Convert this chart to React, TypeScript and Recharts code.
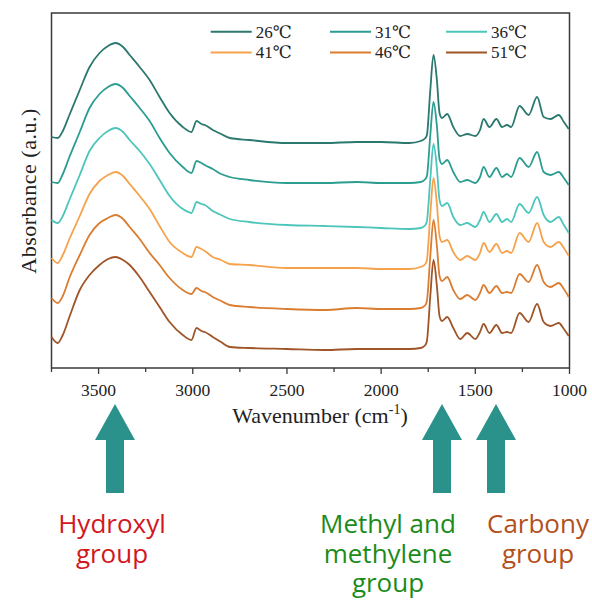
import { LineChart, Line, XAxis, YAxis, Legend, ReferenceArea } from "recharts";

// wavenumber grid (cm-1)
const WAVENUMBERS = [
  3750, 3717, 3690, 3655, 3600, 3548, 3495, 3450, 3410, 3370,
  3335, 3282, 3229, 3176, 3123, 3053, 3007, 2980, 2954, 2936,
  2894, 2850, 2803, 2700, 2500, 2300, 2130, 2000, 1850, 1790,
  1765, 1757, 1739, 1722, 1704, 1690, 1677, 1649, 1617, 1580,
  1543, 1500, 1475, 1456, 1425, 1388, 1358, 1332, 1310, 1265,
  1217, 1172, 1137, 1101, 1057, 1030, 1004,
];

// absorbance (a.u., stacked) for each temperature
const ABS_26 = [
  2.31, 2.30, 2.37, 2.53, 2.78, 3.01, 3.15, 3.22, 3.25, 3.21,
  3.13, 3.01, 2.88, 2.71, 2.55, 2.41, 2.36, 2.47, 2.44, 2.43,
  2.38, 2.34, 2.30, 2.28, 2.25, 2.25, 2.26, 2.26, 2.25, 2.27,
  2.30, 2.33, 2.78, 3.13, 2.88, 2.55, 2.50, 2.54, 2.41, 2.32,
  2.34, 2.32, 2.38, 2.49, 2.41, 2.49, 2.41, 2.43, 2.41, 2.62,
  2.53, 2.71, 2.51, 2.49, 2.53, 2.46, 2.39,
];
const ABS_31 = [
  1.86, 1.85, 1.94, 2.11, 2.36, 2.60, 2.74, 2.81, 2.84, 2.80,
  2.72, 2.60, 2.47, 2.30, 2.15, 2.01, 1.95, 2.07, 2.05, 2.03,
  1.99, 1.94, 1.91, 1.88, 1.85, 1.85, 1.86, 1.85, 1.85, 1.86,
  1.89, 1.92, 2.33, 2.66, 2.42, 2.09, 2.04, 2.08, 1.96, 1.86,
  1.88, 1.85, 1.91, 2.01, 1.91, 2.00, 1.91, 1.94, 1.91, 2.10,
  2.01, 2.16, 1.96, 1.93, 1.96, 1.90, 1.83,
];
const ABS_36 = [
  1.48, 1.45, 1.52, 1.68, 1.93, 2.17, 2.30, 2.37, 2.40, 2.36,
  2.28, 2.17, 2.04, 1.88, 1.72, 1.59, 1.55, 1.66, 1.64, 1.63,
  1.57, 1.53, 1.49, 1.46, 1.43, 1.42, 1.41, 1.40, 1.39, 1.40,
  1.43, 1.47, 1.89, 2.24, 2.00, 1.68, 1.62, 1.65, 1.51, 1.43,
  1.45, 1.41, 1.48, 1.56, 1.46, 1.54, 1.46, 1.49, 1.46, 1.64,
  1.55, 1.71, 1.53, 1.46, 1.51, 1.43, 1.35,
];
const ABS_41 = [
  1.10, 1.05, 1.13, 1.29, 1.52, 1.74, 1.87, 1.93, 1.96, 1.92,
  1.84, 1.72, 1.59, 1.42, 1.26, 1.15, 1.11, 1.21, 1.19, 1.17,
  1.11, 1.08, 1.04, 1.03, 1.00, 1.00, 1.00, 0.99, 0.99, 1.01,
  1.04, 1.08, 1.54, 1.90, 1.64, 1.32, 1.26, 1.28, 1.16, 1.08,
  1.12, 1.08, 1.15, 1.25, 1.16, 1.24, 1.15, 1.17, 1.15, 1.35,
  1.26, 1.45, 1.26, 1.21, 1.26, 1.20, 1.12,
];
const ABS_46 = [
  0.70, 0.65, 0.72, 0.90, 1.13, 1.33, 1.45, 1.50, 1.53, 1.49,
  1.41, 1.29, 1.15, 1.03, 0.90, 0.78, 0.74, 0.80, 0.77, 0.76,
  0.71, 0.67, 0.63, 0.61, 0.59, 0.58, 0.60, 0.59, 0.59, 0.60,
  0.63, 0.67, 1.12, 1.48, 1.22, 0.92, 0.87, 0.91, 0.78, 0.69,
  0.73, 0.68, 0.75, 0.83, 0.75, 0.82, 0.75, 0.76, 0.75, 0.94,
  0.86, 1.03, 0.86, 0.81, 0.85, 0.79, 0.71,
];
const ABS_51 = [
  0.31, 0.25, 0.33, 0.51, 0.78, 0.93, 1.03, 1.09, 1.11, 1.08,
  1.03, 0.91, 0.76, 0.61, 0.46, 0.33, 0.28, 0.40, 0.37, 0.36,
  0.31, 0.26, 0.21, 0.20, 0.19, 0.18, 0.19, 0.19, 0.19, 0.20,
  0.23, 0.27, 0.72, 1.08, 0.82, 0.52, 0.47, 0.51, 0.40, 0.29,
  0.35, 0.29, 0.36, 0.44, 0.35, 0.43, 0.35, 0.36, 0.35, 0.55,
  0.46, 0.64, 0.46, 0.42, 0.45, 0.39, 0.32,
];

const TEMPS = ["26℃", "31℃", "36℃", "41℃", "46℃", "51℃"];
const SERIES_VALUES = [ABS_26, ABS_31, ABS_36, ABS_41, ABS_46, ABS_51];
const X_TICKS = [3750, 3500, 3250, 3000, 2750, 2500, 2250, 2000, 1750, 1500, 1250, 1000];

const LINE_COLORS = ["#2b786e", "#2a9d90", "#4cc6bb", "#f6a24c", "#db7d31", "#9f5527"];
const SERIF = '"Liberation Serif", "Times New Roman", "DejaVu Serif", serif';
const SANS = '"Open Sans", "Noto Sans", sans-serif';
const FRAME = "#3a3a3a";
const ARROW = "#2a918b";

const data = WAVENUMBERS.map((wn, i) => {
  const row: Record<string, number> = { wn };
  TEMPS.forEach((t, s) => {
    row[t] = SERIES_VALUES[s][i];
  });
  return row;
});

function WaveTick(props: any) {
  const { x, y, payload } = props;
  const major = payload.value % 500 === 0;
  return (
    <g>
      <line x1={x} x2={x} y1={y} y2={y + (major ? 6 : 4)} stroke={FRAME} strokeWidth={1.3} />
      {major && (
        <text x={x} y={y + 28} textAnchor="middle" fontFamily={SERIF} fontSize={17.5} fill="#222">
          {payload.value}
        </text>
      )}
    </g>
  );
}

function TempLegend(props: any) {
  const items = (props.payload || []) as any[];
  const cols = [10.7, 130, 246];
  return (
    <svg width={340} height={48}>
      {items.map((item, i) => {
        const cx = cols[i % 3];
        const row = Math.floor(i / 3);
        const ly = 11.7 + row * 20.8;
        return (
          <g key={item.value}>
            <line x1={cx} x2={cx + 41} y1={ly} y2={ly} stroke={item.color} strokeWidth={2} />
            <text x={cx + 45} y={ly + 5.8} fontFamily={SERIF} fontSize={17} fill="#222">
              {item.value}
            </text>
          </g>
        );
      })}
    </svg>
  );
}

function Arrow({ cx }: { cx: number }) {
  const pts = [
    [cx, 404], [cx + 20, 440], [cx + 9, 440], [cx + 9, 493],
    [cx - 9, 493], [cx - 9, 440], [cx - 20, 440],
  ].map((p) => p.join(",")).join(" ");
  return <polygon points={pts} fill={ARROW} />;
}

export default function App() {
  return (
    <div style={{ position: "absolute", left: 0, top: 0, width: 592, height: 601, background: "#fff" }}>
      <LineChart
        width={592}
        height={601}
        data={data}
        margin={{ top: 13, right: 22.5, left: 51.5, bottom: 203 }}
      >
        <XAxis
          dataKey="wn"
          type="number"
          domain={[1000, 3750]}
          reversed
          ticks={X_TICKS}
          interval={0}
          axisLine={false}
          tickLine={false}
          tickSize={0}
          tickMargin={0}
          height={30}
          tick={(p: any) => <WaveTick {...p} />}
        />
        <YAxis hide domain={[0, 3.55]} type="number" />
        <ReferenceArea
          x1={1000}
          x2={3750}
          y1={0}
          y2={3.55}
          fill="none"
          stroke={FRAME}
          strokeWidth={1.5}
          ifOverflow="visible"
        />
        {TEMPS.map((t, i) => (
          <Line
            key={t}
            dataKey={t}
            name={t}
            type="monotone"
            stroke={LINE_COLORS[i]}
            strokeWidth={1.8}
            dot={false}
            isAnimationActive={false}
          />
        ))}
        <Legend
          layout="horizontal"
          verticalAlign="middle"
          align="center"
          content={(p: any) => <TempLegend {...p} />}
          wrapperStyle={{ top: 20, left: 200, width: 340, height: 48 }}
        />
      </LineChart>
      <svg
        width={592}
        height={601}
        style={{ position: "absolute", left: 0, top: 0, pointerEvents: "none" }}
      >
        <text
          transform="translate(36,191) rotate(-90)"
          textAnchor="middle"
          fontFamily={SERIF}
          fontSize={22}
          letterSpacing={0.5}
          fill="#222"
        >
          Absorbance (a.u.)
        </text>
        <text x={320} y={423} textAnchor="middle" fontFamily={SERIF} fontSize={22} fill="#222">
          Wavenumber (cm
          <tspan fontSize={14} dy={-9}>-1</tspan>
          <tspan dy={9}>)</tspan>
        </text>
        <Arrow cx={115} />
        <Arrow cx={442} />
        <Arrow cx={496} />
        <g fontFamily={SANS} fontSize={26} textAnchor="middle">
          <text x={112} y={533} fill="#d2171f">Hydroxyl</text>
          <text x={112} y={563} fill="#d2171f">group</text>
          <text x={388} y={533} fill="#1b8c1b">Methyl and</text>
          <text x={388} y={563} fill="#1b8c1b">methylene</text>
          <text x={388} y={592} fill="#1b8c1b">group</text>
          <text x={538} y={533} fill="#b4501c">Carbony</text>
          <text x={538} y={563} fill="#b4501c">group</text>
        </g>
      </svg>
    </div>
  );
}
